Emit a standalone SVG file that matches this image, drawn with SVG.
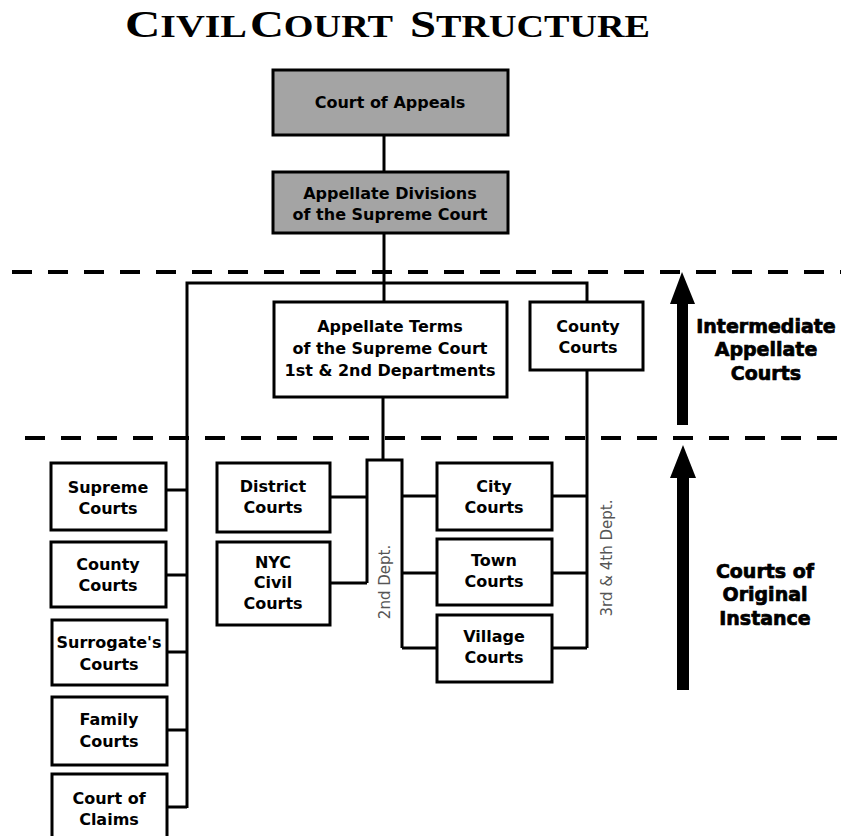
<svg xmlns="http://www.w3.org/2000/svg" width="841" height="836" viewBox="0 0 841 836">
<style>
.box{fill:#fff;stroke:#000;stroke-width:3}
.gbox{fill:#a4a4a4;stroke:#000;stroke-width:3}
.t{font-family:"DejaVu Sans",sans-serif;font-weight:bold;font-size:16px;fill:#000;text-anchor:middle}
.lab{font-family:"DejaVu Sans",sans-serif;font-weight:bold;font-size:19px;fill:#000;stroke:#000;stroke-width:0.7;text-anchor:middle}
.rot{font-family:"DejaVu Sans",sans-serif;font-size:15px;fill:#555;text-anchor:middle}
.ln{fill:none;stroke:#000;stroke-width:3}
.dash{fill:none;stroke:#000;stroke-width:4;stroke-dasharray:20 16}
.title{font-family:"Liberation Serif",serif;font-weight:bold;fill:#000}
</style>
<rect width="841" height="836" fill="#fff"/>
<g id="title" class="title">
<text x="125" y="37" font-size="38" textLength="122" lengthAdjust="spacingAndGlyphs">C<tspan font-size="31">IVIL</tspan></text>
<text x="250" y="37" font-size="38" textLength="143" lengthAdjust="spacingAndGlyphs">C<tspan font-size="31">OURT</tspan></text>
<text x="410" y="37" font-size="38" textLength="240" lengthAdjust="spacingAndGlyphs">S<tspan font-size="31">TRUCTURE</tspan></text>
</g>
<g id="dividers">
<path class="dash" d="M12,272 H841"/>
<path class="dash" d="M25,438 H841"/>
</g>
<g id="connectors">
<path class="ln" d="M384,135 V172"/>
<path class="ln" d="M384,233 V302"/>
<path class="ln" d="M187,808 V283 H587 V302"/>
<path class="ln" d="M587,370 V648"/>
<path class="ln" d="M383,397 V460"/>
<path class="ln" d="M367,583 V460 H402 V648"/>
<path class="ln" d="M166,490 H187 M166,575 H187 M166,652 H187 M166,730 H187 M166,807 H187"/>
<path class="ln" d="M330,497 H367 M330,583 H367"/>
<path class="ln" d="M402,496 H437 M402,573 H437 M402,648 H437"/>
<path class="ln" d="M552,496 H587 M552,573 H587 M552,648 H587"/>
</g>
<g id="court-of-appeals">
<rect class="gbox" x="273" y="70" width="235" height="65"/>
<text class="t" x="390" y="108">Court of Appeals</text>
</g>
<g id="appellate-divisions">
<rect class="gbox" x="273" y="172" width="235" height="61"/>
<text class="t" x="390" y="199">Appellate Divisions</text>
<text class="t" x="390" y="220">of the Supreme Court</text>
</g>
<g id="appellate-terms">
<rect class="box" x="274" y="302" width="233" height="95"/>
<text class="t" x="390" y="332">Appellate Terms</text>
<text class="t" x="390" y="354">of the Supreme Court</text>
<text class="t" x="390" y="376">1st &amp; 2nd Departments</text>
</g>
<g id="county-courts-appellate">
<rect class="box" x="530" y="302" width="113" height="68"/>
<text class="t" x="588" y="332">County</text>
<text class="t" x="588" y="353">Courts</text>
</g>
<g id="supreme-courts">
<rect class="box" x="51" y="463" width="115" height="67"/>
<text class="t" x="108" y="493">Supreme</text>
<text class="t" x="108" y="514">Courts</text>
</g>
<g id="county-courts">
<rect class="box" x="51" y="542" width="115" height="65"/>
<text class="t" x="108" y="570">County</text>
<text class="t" x="108" y="591">Courts</text>
</g>
<g id="surrogates-courts">
<rect class="box" x="52" y="620" width="115" height="65"/>
<text class="t" x="109" y="648">Surrogate's</text>
<text class="t" x="109" y="670">Courts</text>
</g>
<g id="family-courts">
<rect class="box" x="52" y="697" width="115" height="68"/>
<text class="t" x="109" y="725">Family</text>
<text class="t" x="109" y="747">Courts</text>
</g>
<g id="court-of-claims">
<rect class="box" x="52" y="774" width="115" height="70"/>
<text class="t" x="109" y="804">Court of</text>
<text class="t" x="109" y="825">Claims</text>
</g>
<g id="district-courts">
<rect class="box" x="217" y="463" width="113" height="69"/>
<text class="t" x="273" y="492">District</text>
<text class="t" x="273" y="513">Courts</text>
</g>
<g id="nyc-civil-courts">
<rect class="box" x="217" y="542" width="113" height="83"/>
<text class="t" x="273" y="568">NYC</text>
<text class="t" x="273" y="588">Civil</text>
<text class="t" x="273" y="609">Courts</text>
</g>
<g id="city-courts">
<rect class="box" x="437" y="463" width="115" height="67"/>
<text class="t" x="494" y="492">City</text>
<text class="t" x="494" y="513">Courts</text>
</g>
<g id="town-courts">
<rect class="box" x="437" y="539" width="115" height="66"/>
<text class="t" x="494" y="566">Town</text>
<text class="t" x="494" y="587">Courts</text>
</g>
<g id="village-courts">
<rect class="box" x="437" y="615" width="115" height="67"/>
<text class="t" x="494" y="642">Village</text>
<text class="t" x="494" y="663">Courts</text>
</g>
<g id="dept-labels">
<text class="rot" transform="translate(390,582) rotate(-90)">2nd Dept.</text>
<text class="rot" transform="translate(612,558) rotate(-90)">3rd &amp; 4th Dept.</text>
</g>
<g id="intermediate-arrow">
<rect x="677" y="300" width="11" height="125" fill="#000"/>
<polygon points="670,304 682,272 695,304" fill="#000"/>
<text class="lab" x="766" y="333">Intermediate</text>
<text class="lab" x="766" y="356">Appellate</text>
<text class="lab" x="766" y="380">Courts</text>
</g>
<g id="original-arrow">
<rect x="677" y="475" width="12" height="215" fill="#000"/>
<polygon points="670,478 683,445 696,478" fill="#000"/>
<text class="lab" x="765" y="578">Courts of</text>
<text class="lab" x="765" y="601">Original</text>
<text class="lab" x="765" y="625">Instance</text>
</g>
</svg>
